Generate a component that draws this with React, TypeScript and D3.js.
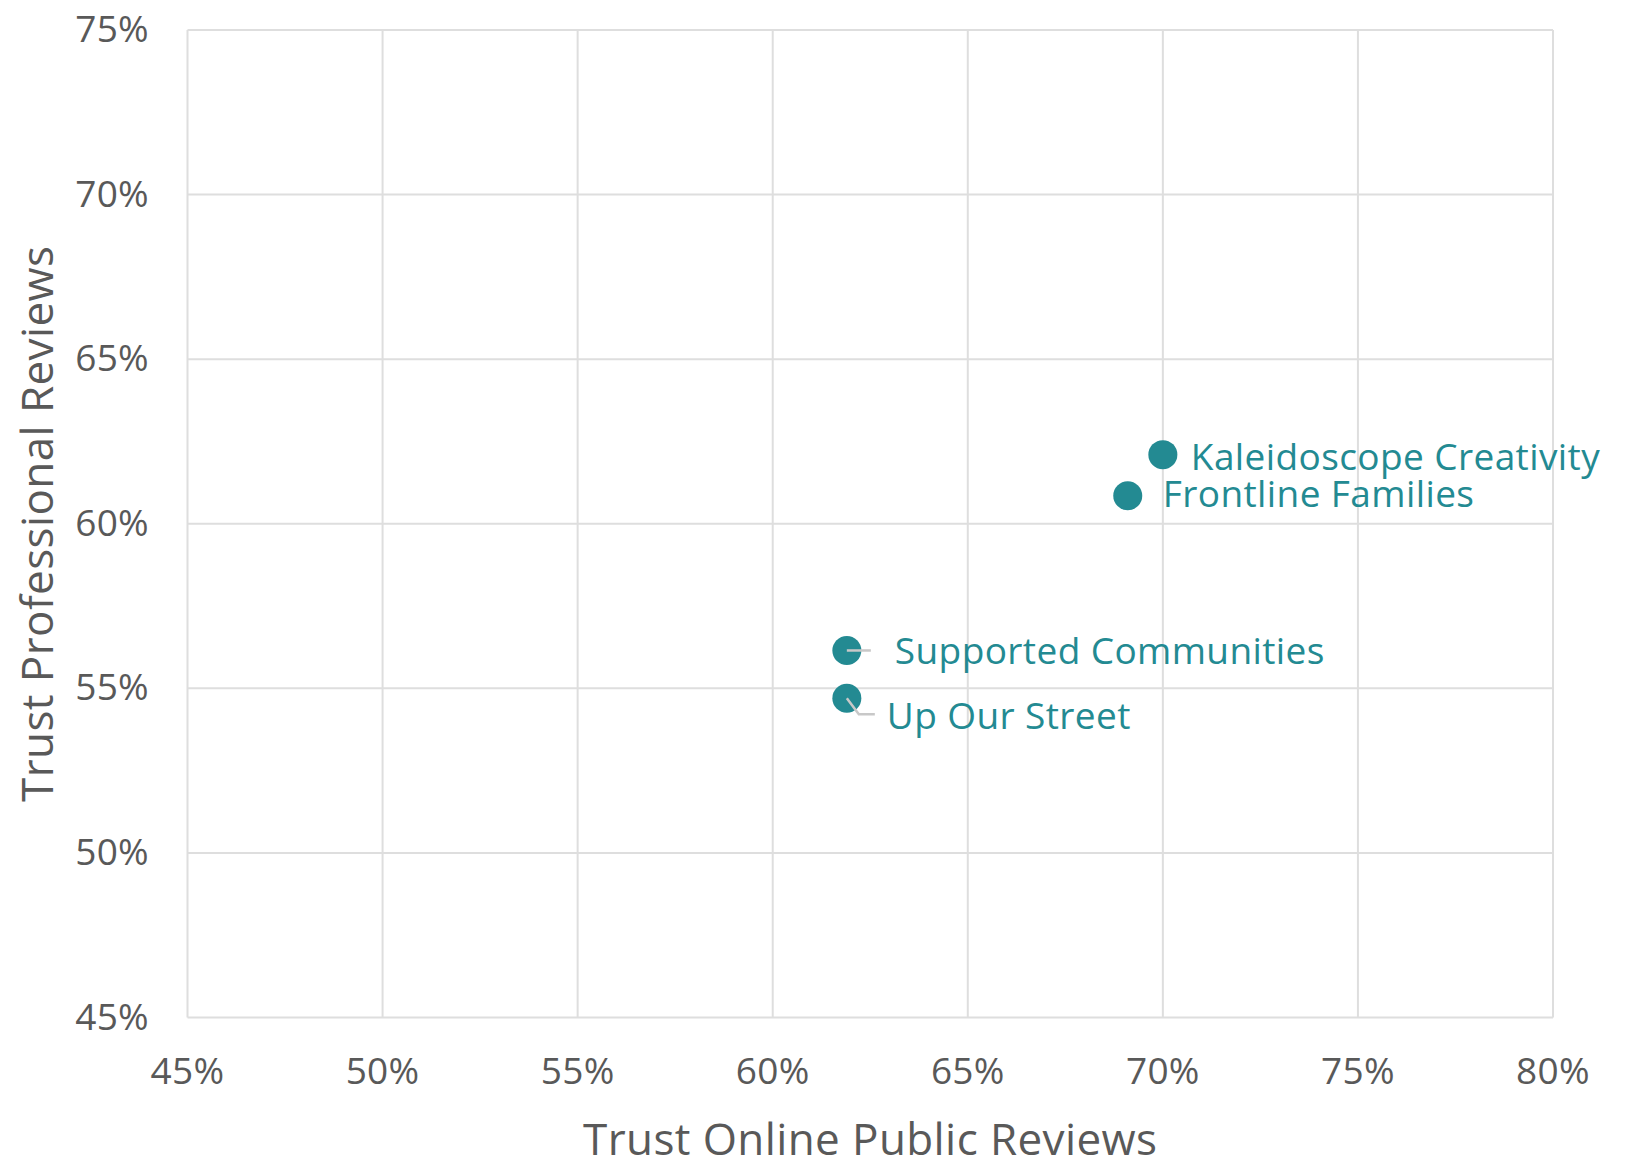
import React from "react";
import * as d3 from "d3";

const names = ["Kaleidoscope Creativity", "Frontline Families", "Supported Communities", "Up Our Street"];
const publicTrust = [0.70, 0.691, 0.619, 0.619];
const professionalTrust = [0.621, 0.6085, 0.5615, 0.547];
const xTicks = [0.45, 0.5, 0.55, 0.6, 0.65, 0.7, 0.75, 0.8];
const yTicks = [0.45, 0.5, 0.55, 0.6, 0.65, 0.7, 0.75];

// label placement (pixel offsets from the dot)
const labelDx = [28, 35, 48, 40];
const labelDy = [15, 11, 14, 31];
const leader = [false, false, true, true];

const W = 1626, H = 1161;
const M = { left: 187.5, right: 1553, top: 30, bottom: 1017.5 };
const TEAL = "#238a92";
const AXIS = "#595959";
const GRID = "#dedede";
const FONT = "'Open Sans', sans-serif";

export default function App() {
  const x = d3.scaleLinear().domain([0.45, 0.8]).range([M.left, M.right]);
  const y = d3.scaleLinear().domain([0.45, 0.75]).range([M.bottom, M.top]);
  const fmt = d3.format(".0%");
  return (
    <div style={{ position: "absolute", left: 0, top: 0 }}>
      <svg width={W} height={H} style={{ display: "block", background: "#fff" }}>
        <g>
          {xTicks.map((t) => (
            <line key={"gx" + t} x1={x(t)} x2={x(t)} y1={M.top} y2={M.bottom} stroke={GRID} strokeWidth={2} />
          ))}
          {yTicks.map((t) => (
            <line key={"gy" + t} x1={M.left} x2={M.right} y1={y(t)} y2={y(t)} stroke={GRID} strokeWidth={2} />
          ))}
        </g>
        <g fontFamily={FONT} fontSize={37} fill={AXIS} letterSpacing={0.3}>
          {xTicks.map((t) => (
            <text key={"tx" + t} x={x(t)} y={M.bottom + 66} textAnchor="middle">{fmt(t)}</text>
          ))}
          {yTicks.map((t) => (
            <text key={"ty" + t} x={149} y={y(t) + 12} textAnchor="end">{fmt(t)}</text>
          ))}
        </g>
        <text x={(M.left + M.right) / 2} y={1155} textAnchor="middle" fontFamily={FONT} fontSize={44} letterSpacing={0.4} fill={AXIS}>
          Trust Online Public Reviews
        </text>
        <text
          transform={`translate(53, ${(M.top + M.bottom) / 2}) rotate(-90)`}
          textAnchor="middle"
          fontFamily={FONT}
          fontSize={44}
          letterSpacing={0.4}
          fill={AXIS}
        >
          Trust Professional Reviews
        </text>
        <g>
          {names.map((n, i) => (
            <circle key={n} cx={x(publicTrust[i])} cy={y(professionalTrust[i])} r={14.5} fill={TEAL} />
          ))}
          {names.map((n, i) => {
            const cx = x(publicTrust[i]);
            const cy = y(professionalTrust[i]);
            if (!leader[i]) return null;
            const path = i === 2
              ? `M${cx},${cy} L${cx + 24},${cy}`
              : `M${cx},${cy} L${cx + 12},${cy + 16} L${cx + 28},${cy + 16}`;
            return <path key={"l" + n} d={path} fill="none" stroke="#c8c8c8" strokeWidth={2.5} />;
          })}
          {names.map((n, i) => (
            <text
              key={"t" + n}
              x={x(publicTrust[i]) + labelDx[i]}
              y={y(professionalTrust[i]) + labelDy[i]}
              fontFamily={FONT}
              fontSize={37}
              letterSpacing={0.4}
              fill={TEAL}
            >
              {n}
            </text>
          ))}
        </g>
      </svg>
    </div>
  );
}
